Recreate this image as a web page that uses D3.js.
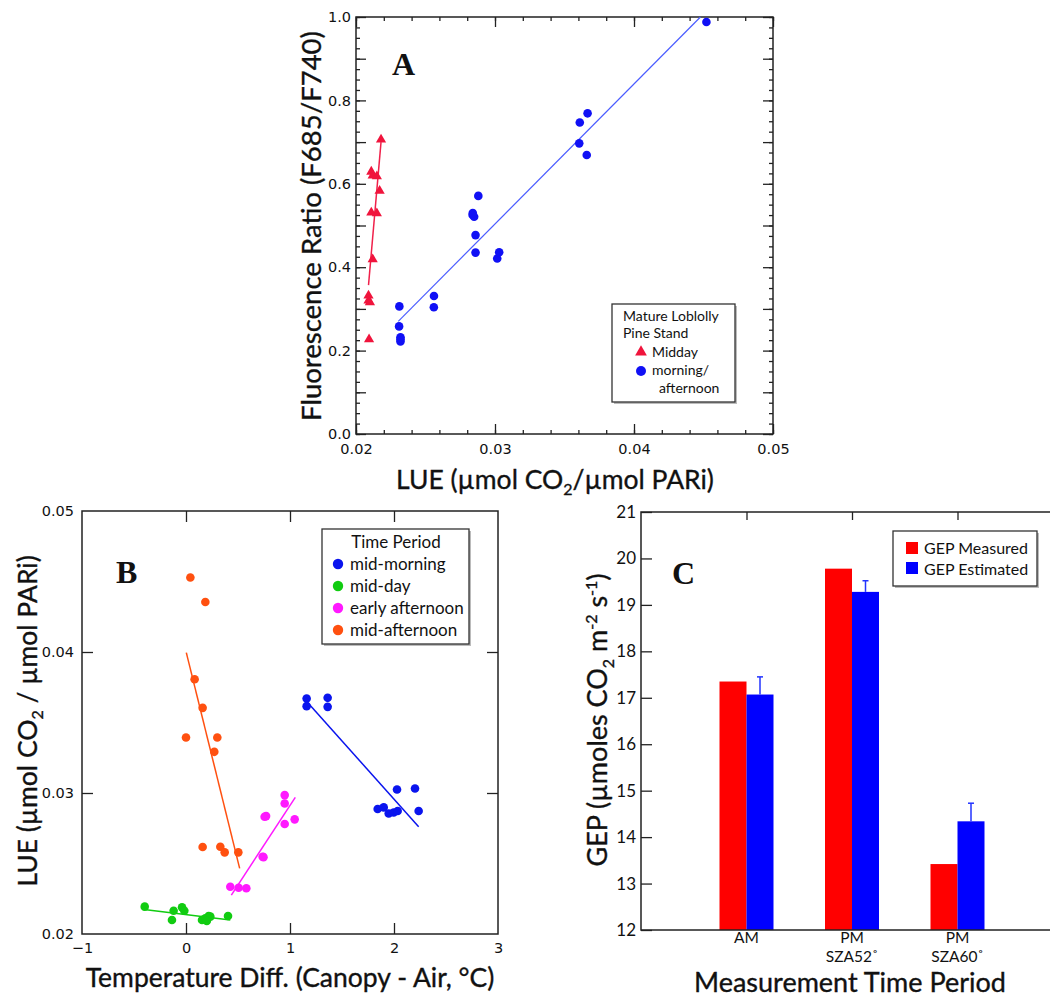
<!DOCTYPE html>
<html>
<head>
<meta charset="utf-8">
<script src="https://cdn.jsdelivr.net/npm/d3@7"></script>
<style>
  body { margin: 0; background: #fff; }
  text { fill: #111; }
  .tick text { font-family: "DejaVu Sans", sans-serif; font-size: 14.5px; fill: #111; }
  .tick line { stroke: #222; stroke-width: 1.3; }
  .title { font-family: Lato, sans-serif; font-size: 26.5px; stroke: #111; stroke-width: 0.35; }
  .leg { font-family: Lato, sans-serif; }
  .letter { font-family: "Liberation Serif", serif; font-weight: bold; font-size: 32px; }
</style>
</head>
<body>
<svg id="chart" width="1050" height="998"></svg>
<script>
// panel A: LUE vs fluorescence ratio
var middayA = [[0.02094,0.227],[0.0209,0.32],[0.0209,0.332],[0.0210,0.316],[0.0212,0.419],
  [0.0211,0.531],[0.0215,0.529],[0.0211,0.629],[0.0212,0.62],[0.0215,0.618],[0.0217,0.583],[0.0218,0.706]];
var morningA = [[0.02312,0.306],[0.0231,0.258],[0.0232,0.232],[0.0232,0.222],[0.0232,0.227],
  [0.02561,0.331],[0.0256,0.304],[0.02839,0.525],[0.0285,0.521],[0.0284,0.53],[0.0288,0.571],
  [0.0286,0.477],[0.0286,0.435],[0.03016,0.421],[0.0303,0.436],[0.03606,0.697],[0.0361,0.747],
  [0.03666,0.769],[0.0366,0.669],[0.04521,0.988]];
var middayFitA = [[0.0209,0.357],[0.0218,0.70]];
var morningFitA = [[0.02304,0.270],[0.04478,1.0]];

// panel B: temperature diff vs LUE
var midMorningB = [[1.16,0.0367],[1.16,0.03616],[1.362,0.03675],[1.362,0.03611],[1.843,0.02886],
  [1.901,0.02898],[1.949,0.02855],[1.997,0.02862],[2.035,0.02872],[2.029,0.03025],[2.202,0.03032],[2.237,0.02872]];
var midDayB = [[-0.397,0.02194],[-0.119,0.02165],[-0.135,0.02099],[-0.038,0.02189],[-0.016,0.02165],
  [0.154,0.02099],[0.186,0.02111],[0.218,0.02128],[0.234,0.02123],[0.20,0.02092],[0.404,0.02128]];
var earlyAfternoonB = [[0.426,0.02335],[0.506,0.02328],[0.58,0.02324],[0.737,0.02548],[0.745,0.02545],
  [0.756,0.02832],[0.77,0.02836],[0.949,0.02985],[0.949,0.02926],[0.949,0.0278],[1.045,0.02813]];
var midAfternoonB = [[0.042,0.04528],[0.186,0.04355],[0.083,0.03807],[0.16,0.03604],[0.0,0.03394],
  [0.301,0.03394],[0.272,0.03292],[0.16,0.02617],[0.33,0.02619],[0.372,0.02579],[0.503,0.02579]];
var fitsB = [
  {c: "#0a14ee", pts: [[1.163,0.03647],[2.237,0.02761]]},
  {c: "#11cc11", pts: [[-0.423,0.02175],[0.426,0.02099]]},
  {c: "#ff19ff", pts: [[0.436,0.02276],[1.051,0.02969]]},
  {c: "#ff5010", pts: [[0.003,0.03996],[0.516,0.02465]]}
];

// panel C: GEP bars
var periodsC = ["AM", "PM52", "PM60"];
var periodLine1C = ["AM", "PM", "PM"];
var periodLine2C = ["", "SZA52˚", "SZA60˚"];
var measuredC = [17.35, 19.78, 13.42];
var estimatedC = [17.07, 19.28, 14.34];
var errTopC = [17.45, 19.52, 14.73];

var svg = d3.select("#chart");
svg.append("rect").attr("width", 1050).attr("height", 998).attr("fill", "#fff");

function frame(g, x0, y0, x1, y1) {
  g.append("rect").attr("x", x0).attr("y", y0).attr("width", x1 - x0).attr("height", y1 - y0)
    .attr("fill", "none").attr("stroke", "#222").attr("stroke-width", 1.5);
}
function noDomain(sel) { sel.select(".domain").remove(); }
function legendBox(g, x, y, w, h) {
  g.append("rect").attr("x", x + 2).attr("y", y + 2).attr("width", w).attr("height", h).attr("fill", "#bbb");
  g.append("rect").attr("x", x).attr("y", y).attr("width", w).attr("height", h)
    .attr("fill", "#fff").attr("stroke", "#333").attr("stroke-width", 1.3);
}

// ---------- A ----------
var gA = svg.append("g");
var xA = d3.scaleLinear().domain([0.02, 0.05]).range([356, 773]);
var yA = d3.scaleLinear().domain([0, 1]).range([434, 17]);
var xMinorA = d3.range(0.02, 0.0501, 0.002), yMinorA = d3.range(0, 1.001, 0.025);

gA.append("g").attr("transform", "translate(0,434)")
  .call(d3.axisBottom(xA).tickValues(xMinorA).tickSize(-4).tickFormat("")).call(noDomain);
gA.append("g").attr("transform", "translate(0,434)")
  .call(d3.axisBottom(xA).tickValues([0.02,0.03,0.04,0.05]).tickSize(-10).tickPadding(10).tickFormat(d3.format(".2f"))).call(noDomain);
gA.append("g").attr("transform", "translate(0,17)")
  .call(d3.axisTop(xA).tickValues(xMinorA).tickSize(-4).tickFormat("")).call(noDomain);
gA.append("g").attr("transform", "translate(0,17)")
  .call(d3.axisTop(xA).tickValues([0.02,0.03,0.04,0.05]).tickSize(-10).tickFormat("")).call(noDomain);
gA.append("g").attr("transform", "translate(356,0)")
  .call(d3.axisLeft(yA).tickValues(yMinorA).tickSize(-4).tickFormat("")).call(noDomain);
gA.append("g").attr("transform", "translate(356,0)")
  .call(d3.axisLeft(yA).tickValues(d3.range(0, 1.01, 0.1)).tickSize(-10).tickFormat("")).call(noDomain);
gA.append("g").attr("transform", "translate(356,0)")
  .call(d3.axisLeft(yA).tickValues([0,0.2,0.4,0.6,0.8,1.0]).tickSize(0).tickPadding(5).tickFormat(d3.format(".1f"))).call(noDomain);
gA.append("g").attr("transform", "translate(773,0)")
  .call(d3.axisRight(yA).tickValues(yMinorA).tickSize(-4).tickFormat("")).call(noDomain);
gA.append("g").attr("transform", "translate(773,0)")
  .call(d3.axisRight(yA).tickValues(d3.range(0, 1.01, 0.1)).tickSize(-10).tickFormat("")).call(noDomain);
frame(gA, 356, 17, 773, 434);

var lineA = d3.line().x(d => xA(d[0])).y(d => yA(d[1]));
gA.append("path").attr("d", lineA(middayFitA)).attr("stroke", "#f0204a").attr("stroke-width", 1.5).attr("fill", "none");
gA.append("path").attr("d", lineA(morningFitA)).attr("stroke", "#4a5cff").attr("stroke-width", 1.2).attr("fill", "none");
gA.selectAll(".tri").data(middayA).join("path")
  .attr("transform", d => "translate(" + xA(d[0]) + "," + yA(d[1]) + ")")
  .attr("d", d3.symbol(d3.symbolTriangle).size(45)).attr("fill", "#f0143c");
gA.selectAll(".dotA").data(morningA).join("circle")
  .attr("cx", d => xA(d[0])).attr("cy", d => yA(d[1])).attr("r", 4.3).attr("fill", "#1010f5");

gA.append("text").attr("class", "letter").attr("x", 392).attr("y", 75).text("A");
legendBox(gA, 612, 304, 123, 98);
var legA = gA.append("g").attr("class", "leg").style("font-size", "14px");
legA.append("text").attr("x", 623).attr("y", 321).text("Mature Loblolly");
legA.append("text").attr("x", 623).attr("y", 338).text("Pine Stand");
legA.append("path").attr("transform", "translate(641,352)").attr("d", d3.symbol(d3.symbolTriangle).size(60)).attr("fill", "#f0143c");
legA.append("text").attr("x", 652).attr("y", 357).text("Midday");
legA.append("circle").attr("cx", 641).attr("cy", 371).attr("r", 5).attr("fill", "#1010f5");
legA.append("text").attr("x", 652).attr("y", 375).text("morning/");
legA.append("text").attr("x", 659).attr("y", 393).text("afternoon");

gA.append("text").attr("class", "title").style("font-size", "27.5px").attr("text-anchor", "middle")
  .attr("transform", "translate(321,226) rotate(-90)").text("Fluorescence Ratio (F685/F740)");
var tA = gA.append("text").attr("class", "title").attr("text-anchor", "middle").attr("x", 555).attr("y", 489);
tA.append("tspan").text("LUE (µmol CO");
tA.append("tspan").attr("font-size", "16px").attr("dy", 6).text("2");
tA.append("tspan").attr("dy", -6).text("/µmol PARi)");

// ---------- B ----------
var gB = svg.append("g");
var xB = d3.scaleLinear().domain([-1, 3]).range([82, 498]);
var yB = d3.scaleLinear().domain([0.02, 0.05]).range([934, 511]);
gB.append("g").attr("transform", "translate(0,934)")
  .call(d3.axisBottom(xB).tickValues([-1,0,1,2,3]).tickSize(0).tickPadding(9).tickFormat(d3.format("d"))).call(noDomain);
gB.append("g").attr("transform", "translate(0,934)")
  .call(d3.axisBottom(xB).tickValues([0,1,2]).tickSize(-11).tickFormat("")).call(noDomain);
gB.append("g").attr("transform", "translate(0,511)")
  .call(d3.axisTop(xB).tickValues([0,1,2]).tickSize(-11).tickFormat("")).call(noDomain);
gB.append("g").attr("transform", "translate(82,0)")
  .call(d3.axisLeft(yB).tickValues([0.02,0.03,0.04,0.05]).tickSize(0).tickPadding(8).tickFormat(d3.format(".2f"))).call(noDomain);
gB.append("g").attr("transform", "translate(82,0)")
  .call(d3.axisLeft(yB).tickValues([0.03,0.04]).tickSize(-11).tickFormat("")).call(noDomain);
gB.append("g").attr("transform", "translate(498,0)")
  .call(d3.axisRight(yB).tickValues([0.03,0.04]).tickSize(-11).tickFormat("")).call(noDomain);
frame(gB, 82, 511, 498, 934);

var lineB = d3.line().x(d => xB(d[0])).y(d => yB(d[1]));
fitsB.forEach(function(f) {
  gB.append("path").attr("d", lineB(f.pts)).attr("stroke", f.c).attr("stroke-width", 1.5).attr("fill", "none");
});
var seriesB = [
  {name: "mid-morning", c: "#0a14ee", pts: midMorningB},
  {name: "mid-day", c: "#11cc11", pts: midDayB},
  {name: "early afternoon", c: "#ff19ff", pts: earlyAfternoonB},
  {name: "mid-afternoon", c: "#ff5010", pts: midAfternoonB}
];
seriesB.forEach(function(s) {
  gB.append("g").selectAll("circle").data(s.pts).join("circle")
    .attr("cx", d => xB(d[0])).attr("cy", d => yB(d[1])).attr("r", 4.3).attr("fill", s.c);
});

gB.append("text").attr("class", "letter").attr("x", 116).attr("y", 583).text("B");
legendBox(gB, 322, 529, 147, 115);
var legB = gB.append("g").attr("class", "leg").style("font-size", "17px");
legB.append("text").attr("x", 396).attr("y", 548).attr("text-anchor", "middle").text("Time Period");
legB.selectAll("circle").data(seriesB).join("circle")
  .attr("cx", 338).attr("cy", (d, i) => 564 + i * 22).attr("r", 5.2).attr("fill", d => d.c);
legB.selectAll(".lt").data(seriesB).join("text")
  .attr("x", 350).attr("y", (d, i) => 570 + i * 22).text(d => d.name);

var tBy = gB.append("text").attr("class", "title").attr("text-anchor", "middle")
  .attr("transform", "translate(37,721) rotate(-90)");
tBy.append("tspan").text("LUE (µmol CO");
tBy.append("tspan").attr("font-size", "16px").attr("dy", 6).text("2");
tBy.append("tspan").attr("dy", -6).text(" / µmol PARi)");
gB.append("text").attr("class", "title").attr("text-anchor", "middle").attr("x", 290).attr("y", 987)
  .text("Temperature Diff. (Canopy - Air, °C)");

// ---------- C ----------
var gC = svg.append("g");
var xC = d3.scalePoint().domain(periodsC).range([641, 1063]).padding(1);
var yC = d3.scaleLinear().domain([12, 21]).range([930, 512]);
var bw = 27;
gC.selectAll(".meas").data(periodsC).join("rect")
  .attr("x", d => xC(d) - bw).attr("width", bw)
  .attr("y", (d, i) => yC(measuredC[i])).attr("height", (d, i) => yC(12) - yC(measuredC[i]))
  .attr("fill", "#ff0000");
gC.selectAll(".est").data(periodsC).join("rect")
  .attr("x", d => xC(d)).attr("width", bw)
  .attr("y", (d, i) => yC(estimatedC[i])).attr("height", (d, i) => yC(12) - yC(estimatedC[i]))
  .attr("fill", "#0000ff");
var err = gC.append("g").attr("stroke", "#2233ff").attr("stroke-width", 1.5);
periodsC.forEach(function(p, i) {
  var cx = xC(p) + bw / 2;
  err.append("line").attr("x1", cx).attr("x2", cx).attr("y1", yC(estimatedC[i])).attr("y2", yC(errTopC[i]));
  err.append("line").attr("x1", cx - 3).attr("x2", cx + 3).attr("y1", yC(errTopC[i])).attr("y2", yC(errTopC[i]));
});

gC.append("g").attr("transform", "translate(641,0)")
  .call(d3.axisLeft(yC).ticks(9).tickSize(-11).tickPadding(5).tickFormat(d3.format("d"))).call(noDomain)
  .selectAll("text").style("font-family", "Lato, sans-serif").style("font-size", "17px");
gC.append("g").attr("transform", "translate(1063,0)")
  .call(d3.axisRight(yC).ticks(9).tickSize(-11).tickFormat("")).call(noDomain);
gC.append("g").attr("transform", "translate(0,512)")
  .call(d3.axisTop(xC).tickSize(-8).tickFormat("")).call(noDomain);
frame(gC, 641, 512, 1063, 930);

gC.selectAll(".cat1").data(periodsC).join("text")
  .attr("class", "leg").attr("text-anchor", "middle").style("font-size", "15.5px")
  .attr("x", d => xC(d)).attr("y", 943).text((d, i) => periodLine1C[i]);
gC.selectAll(".cat2").data(periodsC.filter((d, i) => periodLine2C[i])).join("text")
  .attr("class", "leg").attr("text-anchor", "middle").style("font-size", "15.5px")
  .attr("x", d => xC(d)).attr("y", 962).text(d => periodLine2C[periodsC.indexOf(d)]);

gC.append("text").attr("class", "letter").attr("x", 672).attr("y", 584).text("C");
legendBox(gC, 893, 531, 144, 55);
var legC = gC.append("g").attr("class", "leg").style("font-size", "16px");
legC.append("rect").attr("x", 906).attr("y", 542).attr("width", 12).attr("height", 12).attr("fill", "#ff0000");
legC.append("rect").attr("x", 906).attr("y", 562).attr("width", 12).attr("height", 12).attr("fill", "#0000ff");
legC.append("text").attr("x", 924).attr("y", 554).text("GEP Measured");
legC.append("text").attr("x", 924).attr("y", 575).text("GEP Estimated");

var tCy = gC.append("text").attr("class", "title").style("font-size", "27px").attr("text-anchor", "middle")
  .attr("transform", "translate(607,720) rotate(-90)");
tCy.append("tspan").text("GEP (µmoles CO");
tCy.append("tspan").attr("font-size", "16px").attr("dy", 7).text("2");
tCy.append("tspan").attr("dy", -7).text(" m");
tCy.append("tspan").attr("font-size", "16px").attr("dy", -10).text("-2");
tCy.append("tspan").attr("dy", 10).text(" s");
tCy.append("tspan").attr("font-size", "16px").attr("dy", -10).text("-1");
tCy.append("tspan").attr("dy", 10).text(")");
gC.append("text").attr("class", "title").style("font-size", "27px").attr("text-anchor", "middle")
  .attr("x", 850).attr("y", 992).text("Measurement Time Period");
</script>
</body>
</html>
